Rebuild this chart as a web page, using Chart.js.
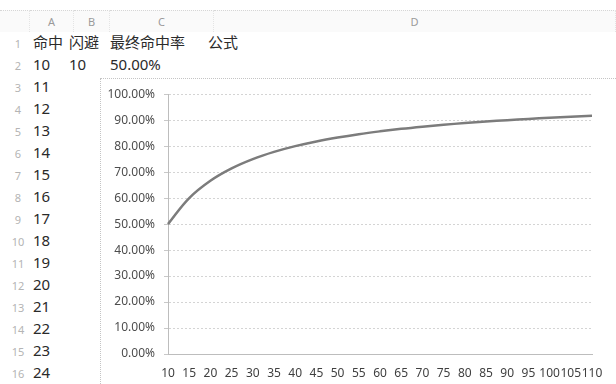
<!DOCTYPE html>
<html>
<head>
<meta charset="utf-8">
<script src="https://cdn.jsdelivr.net/npm/chart.js@4/dist/chart.umd.min.js"></script>
<style>
  body {
    margin: 0;
    width: 616px;
    height: 384px;
    overflow: hidden;
    background: #fff;
    position: relative;
    font-family: "Noto Sans", "Noto Sans CJK SC", sans-serif;
  }
  .colhead {
    position: absolute;
    top: 10px;
    height: 21px;
    line-height: 21px;
    font-size: 11px;
    color: #9a9a9a;
    background: #fafafa;
    border-top: 1px dotted #d6d6d6;
    border-right: 1px dotted #e4e4e4;
    text-align: center;
  }
  .rownum {
    position: absolute;
    left: 7px;
    width: 22px;
    height: 22px;
    line-height: 22px;
    font-size: 11px;
    color: #b4b4b4;
    text-align: center;
  }
  .cell {
    position: absolute;
    height: 22px;
    line-height: 22px;
    font-size: 15px;
    color: #2a2a2a;
    white-space: nowrap;
  }
  #frameLeft {
    position: absolute;
    left: 100px;
    top: 78px;
    width: 0;
    height: 306px;
    border-left: 1px dotted #c4c4c4;
  }
  #frameTop {
    position: absolute;
    left: 100px;
    top: 78px;
    width: 516px;
    height: 0;
    border-top: 1px dotted #c4c4c4;
  }
  #chartWrap {
    position: absolute;
    left: 100px;
    top: 78px;
    width: 516px;
    height: 306px;
  }
</style>
</head>
<body>
<div id="sheet"></div>
<div id="frameLeft"></div>
<div id="frameTop"></div>
<div id="chartWrap"><canvas id="rateChart" width="516" height="306"></canvas></div>

<script>
// 表格内容
const columnNames = ["", "A", "B", "C", "D"];
const headerRow = ["命中", "闪避", "最终命中率", "公式"];
const hitColumn = [10, 11, 12, 13, 14, 15, 16, 17, 18, 19, 20, 21, 22, 23, 24];
const dodgeValue = 10;
const firstRate = "50.00%";

// 图表数据：闪避固定为 10 时，命中 10~110 的最终命中率
const hitLabels = [10, 15, 20, 25, 30, 35, 40, 45, 50, 55, 60, 65, 70, 75, 80, 85, 90, 95, 100, 105, 110];
const finalRates = [50.00, 60.00, 66.67, 71.43, 75.00, 77.78, 80.00, 81.82, 83.33, 84.62, 85.71,
  86.67, 87.50, 88.24, 88.89, 89.47, 90.00, 90.48, 90.91, 91.30, 91.67];
const yTickMin = 0;
const yTickMax = 100;
const yTickStep = 10;

const sheet = document.getElementById("sheet");
const rowTop = (r) => 31 + (r - 1) * 22;

// 列标题
const colBounds = [[0, 30], [30, 74], [74, 110], [110, 214], [214, 616]];
colBounds.forEach((b, i) => {
  const d = document.createElement("div");
  d.className = "colhead";
  d.style.left = b[0] + "px";
  d.style.width = (b[1] - b[0] - 1) + "px";
  d.textContent = columnNames[i];
  sheet.appendChild(d);
});

const addCell = (text, x, row) => {
  const d = document.createElement("div");
  d.className = "cell";
  d.style.left = x + "px";
  d.style.top = rowTop(row) + "px";
  d.textContent = text;
  sheet.appendChild(d);
};

// 行号
for (let r = 1; r <= 16; r++) {
  const d = document.createElement("div");
  d.className = "rownum";
  d.style.top = rowTop(r) + 2 + "px";
  d.textContent = r;
  sheet.appendChild(d);
}

addCell(headerRow[0], 33, 1);
addCell(headerRow[1], 69, 1);
addCell(headerRow[2], 110, 1);
addCell(headerRow[3], 208, 1);

hitColumn.forEach((v, i) => addCell(String(v), 33, i + 2));
addCell(String(dodgeValue), 69, 2);
addCell(firstRate, 110, 2);

const ctx = document.getElementById("rateChart").getContext("2d");
new Chart(ctx, {
  type: "line",
  data: {
    labels: hitLabels,
    datasets: [
      {
        data: finalRates,
        borderColor: "#7c7c7c",
        borderWidth: 2.5,
        pointRadius: 0,
        fill: false,
        tension: 0.4,
      },
    ],
  },
  options: {
    responsive: false,
    animation: false,
    layout: {
      padding: { top: 14, right: 24, left: 0, bottom: 0 },
    },
    plugins: {
      legend: { display: false },
      tooltip: { enabled: false },
    },
    scales: {
      x: {
        offset: false,
        grid: { display: false },
        border: { display: true, color: "#bdbdbd", dash: [2, 2] },
        ticks: {
          autoSkip: false,
          maxRotation: 0,
          padding: 4,
          color: "#404040",
          font: { family: "Noto Sans", size: 12 },
        },
        afterFit: (scale) => {
          scale.height = 30;
        },
      },
      y: {
        min: yTickMin,
        max: yTickMax,
        ticks: {
          stepSize: yTickStep,
          padding: 9,
          color: "#4d4d4d",
          font: { family: "Noto Sans", size: 12 },
          callback: (v) => v.toFixed(2) + "%",
        },
        grid: {
          color: "#d4d4d4",
          tickColor: "#c8c8c8",
          tickLength: 4,
        },
        // 网格线和轴线都用虚线
        border: { display: true, color: "#bdbdbd", dash: [2, 2] },
        afterFit: (scale) => {
          scale.width = 68;
        },
      },
    },
  },
});
</script>
</body>
</html>
